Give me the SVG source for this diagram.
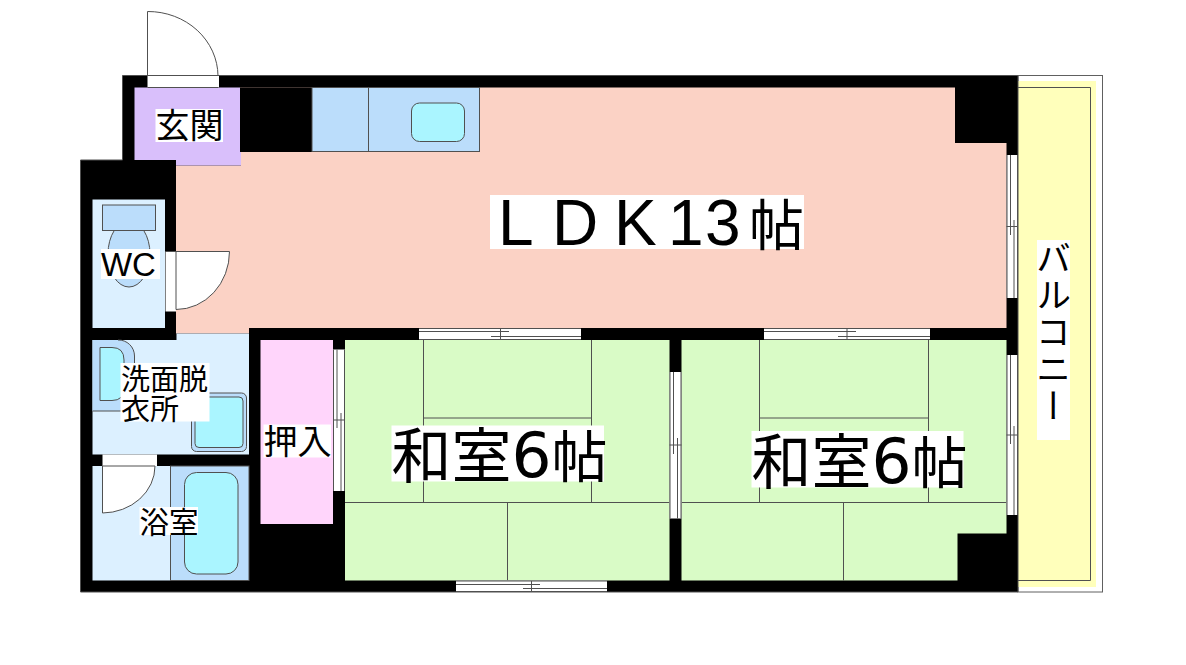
<svg xmlns="http://www.w3.org/2000/svg" width="1186" height="665" viewBox="0 0 1186 665">
<style>
.ln{stroke:#505050;stroke-width:1;fill:none}
.wall{fill:#000}
.ldk{fill:#FBD2C5}
.entry{fill:#D9BFFB}
.blue{fill:#BBDDFB}
.cyan{fill:#AAF5FF}
.wet{fill:#DCF0FF}
.tat{fill:#D9FBC6}
.closet{fill:#FFD5FB}
.yel{fill:#FFFFBB}
.w{fill:#fff}
.wo{fill:#fff;stroke:#505050;stroke-width:1}
.sh{stroke:#505050;stroke-width:1}
text{font-family:"Noto Sans CJK JP","Noto Sans",sans-serif;fill:#000}
.l{font-size:60px}
.hi{font-size:56px}
.num{font-family:"DejaVu Sans",sans-serif;font-size:63px}
.lat{font-family:"Liberation Sans",sans-serif}
</style>
<rect width="1186" height="665" fill="#fff"/>

<g id="balcony">
<rect x="1018" y="75.500" width="84.500" height="516.500" fill="#fff" stroke="#606060"/>
<rect class="yel" x="1018" y="81" width="78" height="506"/>
<path class="ln" d="M1018 87.500H1090.500V580.500H1018"/>
</g>

<g id="walls">
<path class="wall" stroke="#505050" d="M122.500 75.500H1018V592H80.500V160H122.500Z"/>
</g>

<g id="ldk">
<path class="ldk" d="M240 87.500H955V143H1006.500V328H581V333.500H176V165.500H241V152H240Z"/>
<rect class="wall" x="240" y="87.500" width="72" height="64.500"/>
<rect class="wall" x="249" y="328" width="757.500" height="12"/>
</g>

<g id="entry">
<rect class="entry" x="134.500" y="87.500" width="105.500" height="72.500"/>
<rect class="entry" x="176" y="152" width="65" height="13.500"/>
<rect class="w" x="147.500" y="76" width="71.500" height="11.500"/>
<path class="ln" d="M147.500 87.500H218.500M147.500 76V11.500A70 65 0 0 1 218 76"/>
</g>

<g id="kitchen">
<rect class="blue sh" x="312" y="87.500" width="167.500" height="64"/>
<path class="ln" d="M368.500 87.500V151.500"/>
<rect class="cyan sh" x="411.500" y="103" width="53" height="38.500" rx="8"/>
</g>

<g id="wc">
<rect class="wet" x="92.500" y="199.500" width="72.500" height="128.500"/>
<ellipse class="blue sh" cx="129" cy="254" rx="21" ry="33"/>
<rect class="blue sh" x="102.500" y="205" width="53" height="25.500"/>
<rect class="w" x="165.500" y="251.500" width="10.500" height="60"/>
<path class="wo" d="M176 251.500H229.500A53.500 58 0 0 1 176 309.500Z"/>
<path class="ln" d="M165.500 251.500H176"/>
</g>

<g id="washroom">
<path class="wet" d="M176.500 340H249V333.500H176.500Z"/>
<rect class="wet" x="92.500" y="340" width="156.500" height="114.500"/>
<path class="blue" d="M92.500 340H118A16 16 0 0 1 134.500 356V411H92.500Z"/>
<path class="ln" d="M118 340A16 16 0 0 1 134.500 356V400Q134.500 411 122 411H92.500"/>
<path class="cyan sh" d="M100 347.500H112Q124 347.500 124 360V388Q124 400.500 112 400.500H100Z"/>
<rect class="blue sh" x="191.500" y="393" width="55" height="58.500" rx="5"/>
<rect class="cyan sh" x="195" y="397" width="48" height="50.500" rx="4"/>
</g>

<g id="bath">
<rect class="wet" x="92.500" y="466" width="156.500" height="114.500"/>
<rect class="blue sh" x="170.500" y="466" width="78.500" height="114.500"/>
<rect class="cyan sh" x="184.500" y="472.500" width="53.500" height="101.500" rx="12"/>
<rect class="w" x="102.500" y="454.500" width="54.500" height="11.500"/>
<path class="wo" d="M102.500 466H155A53 47 0 0 1 102.500 513Z"/>
</g>

<g id="closet">
<rect class="closet" x="260.500" y="340" width="72.500" height="184"/>
</g>

<g id="room1">
<rect class="tat" x="345" y="340" width="324.500" height="240.500"/>
<path class="ln" d="M423.500 340V502.500M423.500 418H591.500M591.500 340V502.500M345 502.500H669.500M507.500 502.500V580.500"/>
</g>

<g id="room2">
<path class="tat" d="M681.500 340H1006.500V533.500H957.500V580.500H681.500Z"/>
<path class="ln" d="M759.500 340V502.500M759.500 418H928.500M928.500 340V502.500M681.500 502.500H1006.500M843.500 502.500V580.500"/>
</g>

<g id="windows">
<g>
<rect class="w" x="419" y="328" width="162" height="12"/>
<path class="ln" d="M419 328.500H581M419 339.500H581M419 331.500H509M491 336.500H581M500.500 328V340"/>
</g>
<g>
<rect class="w" x="764" y="328" width="166" height="12"/>
<path class="ln" d="M764 328.500H930M764 339.500H930M764 331.500H856M838 336.500H930M847 328V340"/>
</g>
<g>
<rect class="w" x="456" y="580.500" width="151" height="11.500"/>
<path class="ln" d="M456 581H607M456 591.500H607M456 584.500H540M523 588.500H607M531.500 581V592"/>
</g>
<g>
<rect class="w" x="1006.500" y="155" width="11.500" height="143"/>
<path class="ln" d="M1007 155V298M1017.500 155V298M1010.500 155V235M1014 220V298M1006.500 226.500H1018"/>
</g>
<g>
<rect class="w" x="1006.500" y="355" width="11.500" height="160"/>
<path class="ln" d="M1007 355V515M1017.500 355V515M1010.500 355V444M1014 426V515M1006.500 435H1018"/>
</g>
<g>
<rect class="w" x="669.500" y="372" width="12" height="146.500"/>
<path class="ln" d="M670 372V518.500M681 372V518.500M673.500 372V454M677.500 438V518.500M669.500 445H681.500"/>
</g>
<g>
<rect class="w" x="333" y="349.500" width="12" height="141.500"/>
<path class="ln" d="M333.500 349.500V491M344.500 349.500V491M337 349.500V428M341 413V491M333 420H345"/>
</g>
</g>

<g id="labels">
<rect class="w" x="155.500" y="109" width="67.500" height="33"/>
<text x="155.500" y="138" style="font-size:34px">玄関</text>
<rect class="w" x="490" y="195" width="314" height="54"/>
<text class="lat" y="245" x="498 552 614 668 705 749" style="font-size:64px">LDK13<tspan style="font-family:'Noto Sans CJK JP',sans-serif;font-size:55px" y="245">帖</tspan></text>
<rect class="w" x="101" y="249" width="59" height="30"/>
<text class="lat" x="101 132" y="276" style="font-size:33px">WC</text>
<rect class="w" x="120.500" y="363" width="89" height="58.500"/>
<text style="font-size:29px"><tspan x="121" y="390">洗面脱</tspan><tspan x="121" y="419.500">衣所</tspan></text>
<rect class="w" x="139.500" y="507" width="58.500" height="28"/>
<text x="139.500" y="533" style="font-size:29.500px">浴室</text>
<rect class="w" x="263.500" y="424.500" width="67.500" height="33"/>
<text x="263.500" y="454" style="font-size:34px">押入</text>
<rect class="w" x="391.500" y="425.500" width="212.500" height="56"/>
<text class="l" x="391.500" y="478">和室<tspan class="num" x="511.500" y="477">6</tspan><tspan class="hi" x="551.500" y="477">帖</tspan></text>
<rect class="w" x="751.500" y="431" width="212" height="56.500"/>
<text class="l" x="751.500" y="484">和室<tspan class="num" x="871.500" y="483">6</tspan><tspan class="hi" x="911.500" y="483">帖</tspan></text>
<rect class="w" x="1037" y="240" width="33" height="200"/>
<text x="1053.500" y="240" style="font-size:35px;writing-mode:vertical-rl;letter-spacing:2px">バルコニー</text>
</g>
</svg>
